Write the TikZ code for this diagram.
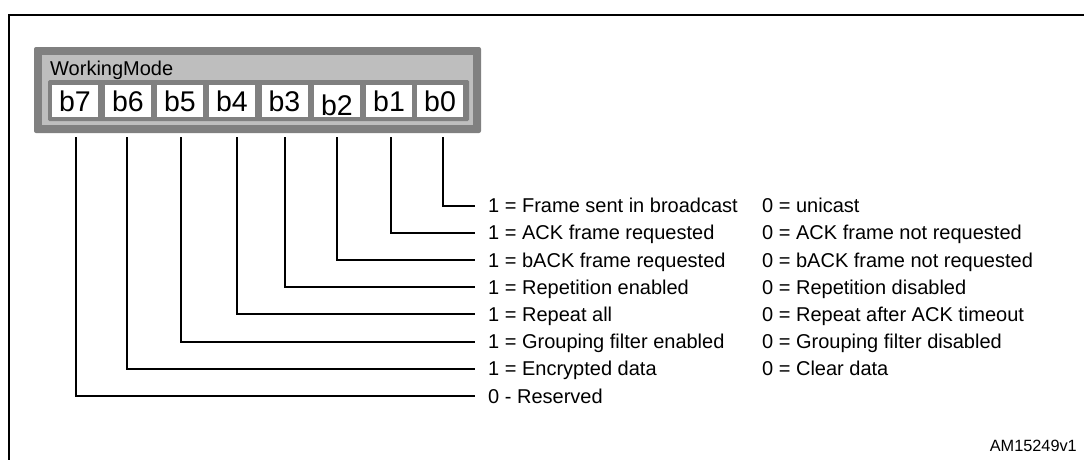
\documentclass[tikz,border=0pt]{standalone}
\usepackage{fontspec}
\setmainfont{Liberation Sans}
\definecolor{frameg}{RGB}{128,128,128}
\definecolor{panelg}{RGB}{190,190,190}
\begin{document}
\begin{tikzpicture}[x=1pt,y=-1pt,
  conn/.style={line width=2pt, line join=miter},
  lbl/.style={anchor=west, inner xsep=13pt, inner ysep=0pt, text height=14.3pt, text depth=0pt, font=\fontsize{20}{24}\selectfont},
  lblz/.style={anchor=west, inner sep=0pt, text height=14.3pt, text depth=0pt, font=\fontsize{20}{24}\selectfont},
  bitbox/.style={fill=white, minimum width=46pt, minimum height=32pt, inner sep=0pt, text height=20.6pt, text depth=0pt, font=\fontsize{28.5}{30}\selectfont}]
\useasboundingbox (0,0) rectangle (1084,459);
% frame
\draw[line width=2pt] (9,460) -- (9,15) -- (1085,15);
% register graphic
\fill[frameg, rounded corners=2pt] (34,47) rectangle (481,133);
\fill[panelg] (42,55) rectangle (473,125);
\node[anchor=base west, inner sep=0pt, font=\fontsize{20}{24}\selectfont] (wm) at (50,75.5) {WorkingMode};
\fill[frameg, rounded corners=1.5pt] (48,80) rectangle (469,121);
\node[bitbox] (b7) at (75,101) {b7};
\node[bitbox] (b6) at (128,101) {b6};
\node[bitbox] (b5) at (180,101) {b5};
\node[bitbox] (b4) at (232,101) {b4};
\node[bitbox] (b3) at (284.5,101) {b3};
\node[bitbox] (b2) at (337,101) {\raisebox{-4.5pt}{b2}};
\node[bitbox] (b1) at (389,101) {b1};
\node[bitbox] (b0) at (440,101) {b0};
% connector start points
\coordinate (s7) at (75.7,137);
\coordinate (s6) at (126.7,137);
\coordinate (s5) at (181,137);
\coordinate (s4) at (236.7,137);
\coordinate (s3) at (285,137);
\coordinate (s2) at (337.3,137);
\coordinate (s1) at (391,137);
\coordinate (s0) at (442.7,137);
% labels
\node[lbl] (t0) at (475,205.5) {1 = Frame sent in broadcast};
\node[lbl] (t1) at (475,232.7) {1 = ACK frame requested};
\node[lbl] (t2) at (475,259.9) {1 = bACK frame requested};
\node[lbl] (t3) at (475,287.1) {1 = Repetition enabled};
\node[lbl] (t4) at (475,314.3) {1 = Repeat all};
\node[lbl] (t5) at (475,341.5) {1 = Grouping filter enabled};
\node[lbl] (t6) at (475,368.7) {1 = Encrypted data};
\node[lbl] (t7) at (475,395.9) {0 - Reserved};
\node[lblz] (z0) at (762,205.5) {0 = unicast};
\node[lblz] (z1) at (762,232.7) {0 = ACK frame not requested};
\node[lblz] (z2) at (762,259.9) {0 = bACK frame not requested};
\node[lblz] (z3) at (762,287.1) {0 = Repetition disabled};
\node[lblz] (z4) at (762,314.3) {0 = Repeat after ACK timeout};
\node[lblz] (z5) at (762,341.5) {0 = Grouping filter disabled};
\node[lblz] (z6) at (762,368.7) {0 = Clear data};
% connectors
\foreach \i in {0,...,7} {\draw[conn] (s\i) |- (t\i.west);}
\node[anchor=base east, inner sep=0pt, font=\fontsize{16.3}{19}\selectfont] (id) at (1077,451.5) {AM15249v1};
\end{tikzpicture}
\end{document}
